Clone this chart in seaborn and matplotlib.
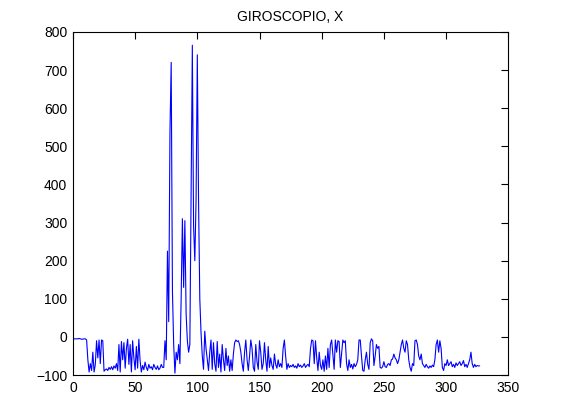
import matplotlib
matplotlib.use("Agg")
import matplotlib.pyplot as plt
import numpy as np
import pandas as pd
import seaborn as sns

# gyroscope X readings (one sample per index)
gyro_x = [
    -5, -5, -5, -5, -4, -5, -6, -6, -5, -5,
    -8, -60, -92, -70, -88, -40, -92, -72, -10, -55,
    -8, -70, -8, -10, -90, -86, -84, -88, -80, -85,
    -78, -86, -76, -82, -70, -88, -20, -92, -12, -60,
    -15, -82, -30, -6, -72, -20, -92, -10, -55, -86,
    -25, -82, -6, -62, -92, -75, -86, -66, -80, -88,
    -72, -82, -78, -86, -72, -80, -85, -76, -86, -82,
    -72, -80, -80, -10, -60, 225, 40, 535, 720, 120,
    -20, -95, -40, -60, -20, -70, 100, 310, 130, 305,
    60, -10, -40, -20, 360, 765, 290, 200, 360, 740,
    355, 100, 10, -50, -85, 15, -30, -60, -88, -40,
    -8, -85, -15, -70, -90, -12, -80, -45, -92, -20,
    -60, -88, -30, -75, -50, -90, -60, -88, -45, -15,
    -8, -12, -10, -20, -40, -70, -90, -40, -8, -60,
    -88, -50, -8, -30, -80, -90, -20, -65, -85, -10,
    -40, -85, -70, -15, -60, -90, -25, -80, -55, -75,
    -85, -45, -72, -82, -60, -78, -70, -80, -30, -8,
    -50, -85, -70, -80, -75, -78, -72, -80, -76, -82,
    -70, -78, -74, -80, -76, -70, -80, -75, -72, -78,
    -30, -8, -10, -70, -10, -55, -88, -40, -75, -85,
    -60, -90, -50, -85, -30, -80, -20, -8, -45, -85,
    -8, -40, -10, -12, -80, -45, -8, -15, -10, -70,
    -88, -60, -80, -72, -84, -70, -78, -72, -60, -8,
    -8, -50, -88, -90, -60, -40, -72, -85, -15, -5,
    -10, -75, -50, -20, -30, -25, -80, -82, -78, -65,
    -78, -80, -72, -70, -75, -60, -58, -45, -55, -60,
    -70, -60, -40, -20, -8, -30, -40, -10, -20, -60,
    -80, -90, -70, -75, -10, -8, -20, -50, -60, -45,
    -70, -75, -80, -72, -78, -82, -76, -80, -74, -78,
    -60, -20, -8, -40, -10, -30, -80, -88, -70, -75,
    -60, -75, -70, -65, -78, -72, -80, -68, -75, -70,
    -65, -75, -70, -62, -78, -72, -80, -70, -60, -40,
    -70, -80, -72, -78, -75, -76, -76,
]
sample = list(range(1, len(gyro_x) + 1))

x_ticks = [0, 50, 100, 150, 200, 250, 300, 350]
y_ticks = [-100, 0, 100, 200, 300, 400, 500, 600, 700, 800]

sns.set_style("white")
plt.rcParams['font.family'] = ['Liberation Sans', 'DejaVu Sans']

df = pd.DataFrame({'sample': sample, 'value': gyro_x})

fig = plt.figure(figsize=(5.61, 4.2), dpi=100)
ax = fig.add_axes([0.13, 0.107, 0.776, 0.817])
sns.lineplot(data=df, x='sample', y='value', ax=ax, color='#0000ff',
             linewidth=0.8, estimator=None, sort=False)

ax.set_xlim(0, 350)
ax.set_ylim(-100, 800)
ax.set_xticks(x_ticks)
ax.set_yticks(y_ticks)
ax.set_xlabel('')
ax.set_ylabel('')
ax.set_title('GIROSCOPIO, X', fontsize=10, pad=8, color='black')
ax.tick_params(direction='in', length=5, width=0.8, top=True, right=True,
               labelsize=10, colors='black', pad=4)
for s in ax.spines.values():
    s.set_visible(True)
    s.set_color('black')
    s.set_linewidth(0.8)

fig.savefig('out.png', dpi=100, facecolor='white')
